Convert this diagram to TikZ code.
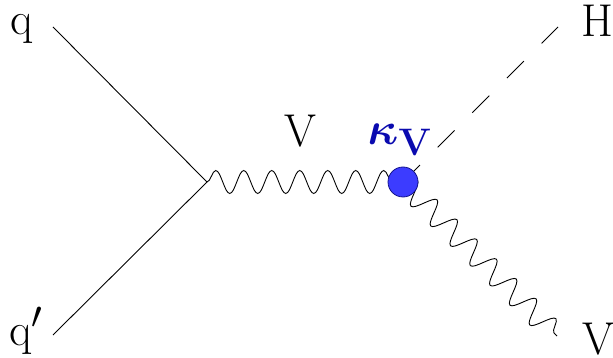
\documentclass[tikz,border=0pt]{standalone}
\usepackage{bm}
\usetikzlibrary{decorations.pathmorphing}
\definecolor{blobfill}{RGB}{60,60,255}
\definecolor{blobdraw}{RGB}{20,20,140}
\definecolor{kapcol}{RGB}{10,10,175}
\tikzset{
  fermion/.style={line width=0.9pt},
  photon/.style={line width=0.9pt, decorate, decoration={snake, segment length=28pt, amplitude=11.5pt}},
  scalar/.style={line width=0.9pt, dash pattern=on 24pt off 25pt},
  lbl/.style={inner sep=0pt, anchor=base, font=\Huge, scale=1.85, transform shape},
  blobstyle/.style={circle, minimum size=30pt, inner sep=0pt, fill=blobfill, draw=blobdraw, line width=0.8pt}
}
\begin{document}
\begin{tikzpicture}[x=1pt,y=-1pt]
\useasboundingbox (0,0) rectangle (613,358);
\coordinate (qs) at (53,27);
\coordinate (qps) at (53,335);
\coordinate (v1) at (207,182);
\coordinate (v2) at (403,182);
\coordinate (hend) at (558,27);
\coordinate (vend) at (557,336);
\draw[fermion] (qs) -- (v1);
\draw[fermion] (qps) -- (v1);
\draw[photon] (v1) -- (v2);
\draw[photon] (v2) -- (vend);
\draw[scalar] (v2) -- (hend);
\node[blobstyle] (blob) at (v2) {};
\node[lbl] (q) at (22,35) {q};
\node[lbl] (qp) at (26,345) {q$'$};
\node[lbl] (H) at (597,37) {H};
\node[lbl] (Vb) at (598,354) {V};
\node[lbl] (Vt) at (300,147) {V};
\node[lbl, text=kapcol] (kap) at (400,145) {$\bm{\kappa}_{\mathbf{V}}$};
\end{tikzpicture}
\end{document}
